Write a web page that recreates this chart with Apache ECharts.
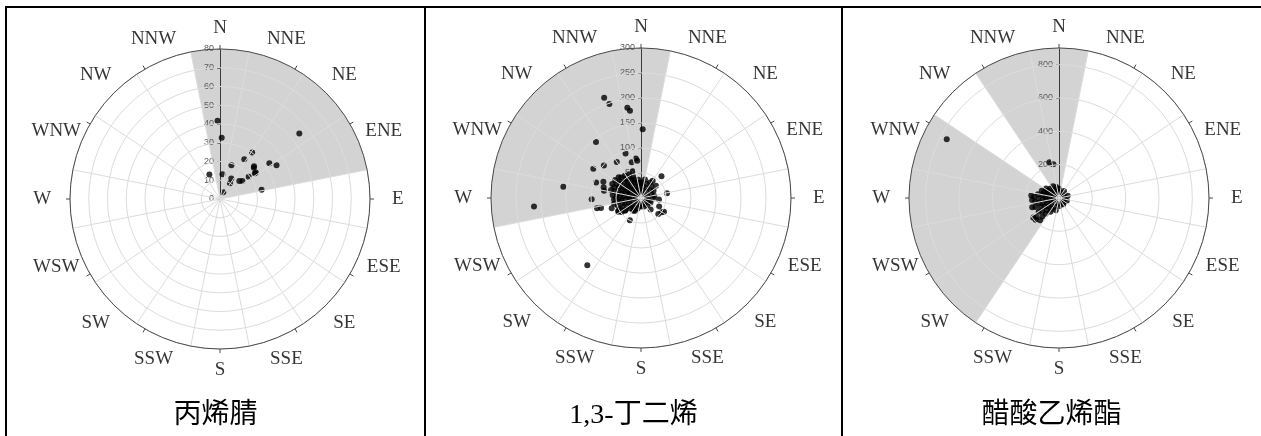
<!DOCTYPE html>
<html>
<head>
<meta charset="utf-8">
<script src="https://cdn.jsdelivr.net/npm/echarts@6/dist/echarts.min.js"></script>
<style>
html,body{margin:0;padding:0;background:#fff;}
#chart{width:1261px;height:436px;}
</style>
</head>
<body>
<div id="chart"></div>
<script>
// ---------- data ----------
const directions = ['N','NNE','NE','ENE','E','ESE','SE','SSE','S','SSW','SW','WSW','W','WNW','NW','NNW'];
const directionAngles = [0,22.5,45,67.5,90,112.5,135,157.5,180,202.5,225,247.5,270,292.5,315,337.5];
const titles = ['丙烯腈', '1,3-丁二烯', '醋酸乙烯酯'];
const radiusMax = [80, 300, 900];
const radiusInterval = [10, 50, 200];

// shaded wind sectors [from, to] in compass degrees (clockwise from N)
const sectorsAcrylonitrile = [[348.75, 78.75]];
const sectorsButadiene = [[258.75, 11.25]];
const sectorsVinylAcetate = [[326.25, 11.25], [213.75, 303.75]];

// points: [concentration, wind direction (deg)]
const pointsAcrylonitrile = [
  [41.7,358.2],[32.7,1.6],[14.3,336.6],[13.3,5.7],[19.0,18.7],[12.5,28.9],[10.0,32.2],[4.0,26],
  [14.1,47],[15.3,51.3],[24.8,31.5],[30.2,34.6],[19.4,52.1],[23.1,53.6],[23.8,53.4],[25.2,46.1],
  [24.6,47.2],[22.7,77.6],[32.5,54.1],[35.1,59.2],[54.9,50.4]
];

const pointsButadiene = [
  // scattered points
  [137.4,1.4],[213.4,339.8],[198.4,341.4],[182.7,351.4],[176,352.8],[143.7,321.2],[94,340.8],[86.9,326.1],
  [79.6,352.6],[74.9,354.3],[74,345.5],[112,301.6],[98.8,311.3],[157,278.3],[214.7,265.4],[95,289.1],
  [82,293.4],[77.8,286.2],[75.3,281],[98.7,268.6],[82.5,256],[90.4,256.8],[62.1,250.6],[53,238.9],
  [40.8,231.6],[49.8,206.6],[28,205],[59.8,43.3],[52.9,79.4],[50.3,124.6],[53.5,120.8],[47.1,132.8],
  [172.2,218.6],[38.8,50.6],[41.8,34],[36,95],[40,115],[30,140],[52,240.8],[47.7,234],[29.7,211],
  // dense core
  [7,15],[9,95],[6,170],[8,230],[10,285],[9,330],
  [15,5],[16,40],[14,75],[17,110],[13,145],[15,185],[17,215],[16,245],[18,270],[15,298],[17,322],[16,348],
  [24,10],[23,30],[25,52],[22,70],[24,92],[21,115],[19,138],[18,160],[17,178],[22,198],[25,218],[24,233],
  [26,250],[23,262],[25,278],[24,292],[26,308],[23,320],[25,335],[24,350],
  [31,2],[30,22],[32,40],[29,60],[27,82],[38,12],[36,30],[30,225],[32,238],[33,252],[31,265],[34,276],
  [32,288],[30,299],[33,311],[31,323],[34,336],[32,347],[29,357],
  [39,232],[41,244],[38,255],[40,264],[42,273],[39,283],[41,293],[40,302],[38,312],[42,321],[40,331],
  [39,341],[37,352],
  [47,243],[49,252],[46,261],[50,270],[48,279],[47,288],[49,296],[50,305],[46,314],[48,322],[47,331],[45,340],
  [55,258],[54,267],[57,276],[55,284],[58,292],[56,300],[54,308],[57,316],[55,324],[53,333],[56,343],
  [62,285],[64,296],[63,305],[61,313]
];

const pointsVinylAcetate = [
  // scattered points
  [760,297.6],[222,345],[205,350.5],[167,275],[162,266],[170,251],[194,233],[191,227],[175,220],[178,230],
  // dense core
  [15,40],[14,160],[16,280],
  [35,10],[33,70],[36,130],[34,190],[37,250],[35,310],
  [55,0],[52,35],[54,75],[50,110],[45,145],[48,175],[56,205],[58,232],[55,258],[57,282],[54,305],[56,330],[53,350],
  [76,195],[78,215],[80,232],[77,248],[79,262],[81,276],[78,290],[80,303],[77,318],[79,333],[68,346],
  [98,212],[102,226],[100,240],[103,253],[99,266],[101,279],[98,292],[96,306],
  [124,220],[127,232],[122,244],[126,256],[123,268],[128,280],[112,293],
  [150,222],[147,236],[152,249],[146,261],[150,273]
];

const sectorSets = [sectorsAcrylonitrile, sectorsButadiene, sectorsVinylAcetate];
const pointSets = [pointsAcrylonitrile, pointsButadiene, pointsVinylAcetate];

// ---------- layout / style ----------
const centers = [[220,199],[641,198],[1059,198]];
const R = 150;
const GRID = '#dcdcdc';
const SHADE = '#d3d3d3';
const AXIS = '#4a4a4a';

// label distance (as a fraction of the axis max): a little further out sideways than up/down
function labelFactor(deg) {
  return 1.14 + 0.045 * Math.abs(Math.sin(deg * Math.PI / 180));
}

const polar = [], angleAxis = [], radiusAxis = [], series = [];

function sectorRender(params, api) {
  const c = api.coord([0, 0]);
  const p1 = api.coord([api.value(0), api.value(1)]);
  const p2 = api.coord([api.value(0), api.value(2)]);
  let s = Math.atan2(p1[1] - c[1], p1[0] - c[0]);
  let e = Math.atan2(p2[1] - c[1], p2[0] - c[0]);
  if (e < s) e += Math.PI * 2;
  return {
    type: 'sector',
    shape: { cx: c[0], cy: c[1], r0: 0, r: Math.hypot(p1[0] - c[0], p1[1] - c[1]), startAngle: s, endAngle: e, clockwise: true },
    style: { fill: SHADE }
  };
}

for (let k = 0; k < 3; k++) {
  const dataPolar = 2 * k, gridPolar = 2 * k + 1;
  polar.push({ center: centers[k], radius: R });
  polar.push({ center: centers[k], radius: R });

  angleAxis.push({
    polarIndex: dataPolar, type: 'value', min: 0, max: 360, interval: 30,
    startAngle: 90, clockwise: true, z: 4,
    axisLine: { show: true, lineStyle: { color: AXIS, width: 1 } },
    axisTick: { show: true, inside: false, length: 4, lineStyle: { color: AXIS } },
    axisLabel: { show: false }, splitLine: { show: false }
  });
  angleAxis.push({
    polarIndex: gridPolar, type: 'value', min: 0, max: 360, interval: 22.5,
    startAngle: 78.75, clockwise: true, z: 4,
    axisLine: { show: false }, axisTick: { show: false }, axisLabel: { show: false },
    splitLine: { show: true, lineStyle: { color: GRID, width: 1 } }
  });

  radiusAxis.push({
    polarIndex: dataPolar, type: 'value', min: 0, max: radiusMax[k], interval: radiusInterval[k], z: 2,
    axisLine: { show: true, lineStyle: { color: '#3a3a3a', width: 1 } },
    axisTick: { show: true, length: 3, lineStyle: { color: '#3a3a3a' } },
    axisLabel: { show: true, fontSize: 9, color: '#5a5a5a', margin: 6, fontFamily: 'Liberation Sans', showMaxLabel: k < 2 },
    splitLine: { show: false }
  });
  radiusAxis.push({
    polarIndex: gridPolar, type: 'value', min: 0, max: radiusMax[k], interval: radiusInterval[k], z: 4,
    axisLine: { show: false }, axisTick: { show: false }, axisLabel: { show: false },
    splitLine: { show: true, lineStyle: { color: GRID, width: 1 } }
  });

  series.push({
    type: 'custom', coordinateSystem: 'polar', polarIndex: dataPolar, z: 1, silent: true,
    renderItem: sectorRender,
    data: sectorSets[k].map(s => [radiusMax[k], s[0], s[1]])
  });
  series.push({
    type: 'scatter', coordinateSystem: 'polar', polarIndex: dataPolar, z: 3,
    symbolSize: 6, itemStyle: { color: '#000' },
    data: pointSets[k]
  });
  series.push({
    type: 'scatter', coordinateSystem: 'polar', polarIndex: dataPolar, z: 5, silent: true, clip: false,
    symbolSize: 1, itemStyle: { color: 'rgba(0,0,0,0)' },
    label: { show: true, position: 'inside', formatter: '{b}', fontFamily: 'Liberation Serif', fontSize: 19, color: '#000' },
    data: directions.map((d, i) => ({ name: d, value: [radiusMax[k] * labelFactor(directionAngles[i]), directionAngles[i]] }))
  });
}

const captionX = [215.5, 633.5, 1051.5];
const graphic = [];
titles.forEach((t, i) => {
  graphic.push({
    type: 'text', x: captionX[i], y: 416, silent: true,
    style: { text: t, fontSize: 28, fontFamily: '"Liberation Serif", "Noto Sans CJK TC"', align: 'center', verticalAlign: 'middle', fill: '#000' }
  });
});
[[6, 7, 1261, 7], [6, 6, 6, 436], [425, 6, 425, 436], [842, 6, 842, 436]].forEach(l => {
  graphic.push({ type: 'line', silent: true, shape: { x1: l[0], y1: l[1], x2: l[2], y2: l[3] }, style: { stroke: '#000', lineWidth: 2 } });
});

const chart = echarts.init(document.getElementById('chart'), null, { renderer: 'canvas' });
chart.setOption({
  animation: false,
  backgroundColor: '#fff',
  polar, angleAxis, radiusAxis, series, graphic
});
</script>
</body>
</html>
